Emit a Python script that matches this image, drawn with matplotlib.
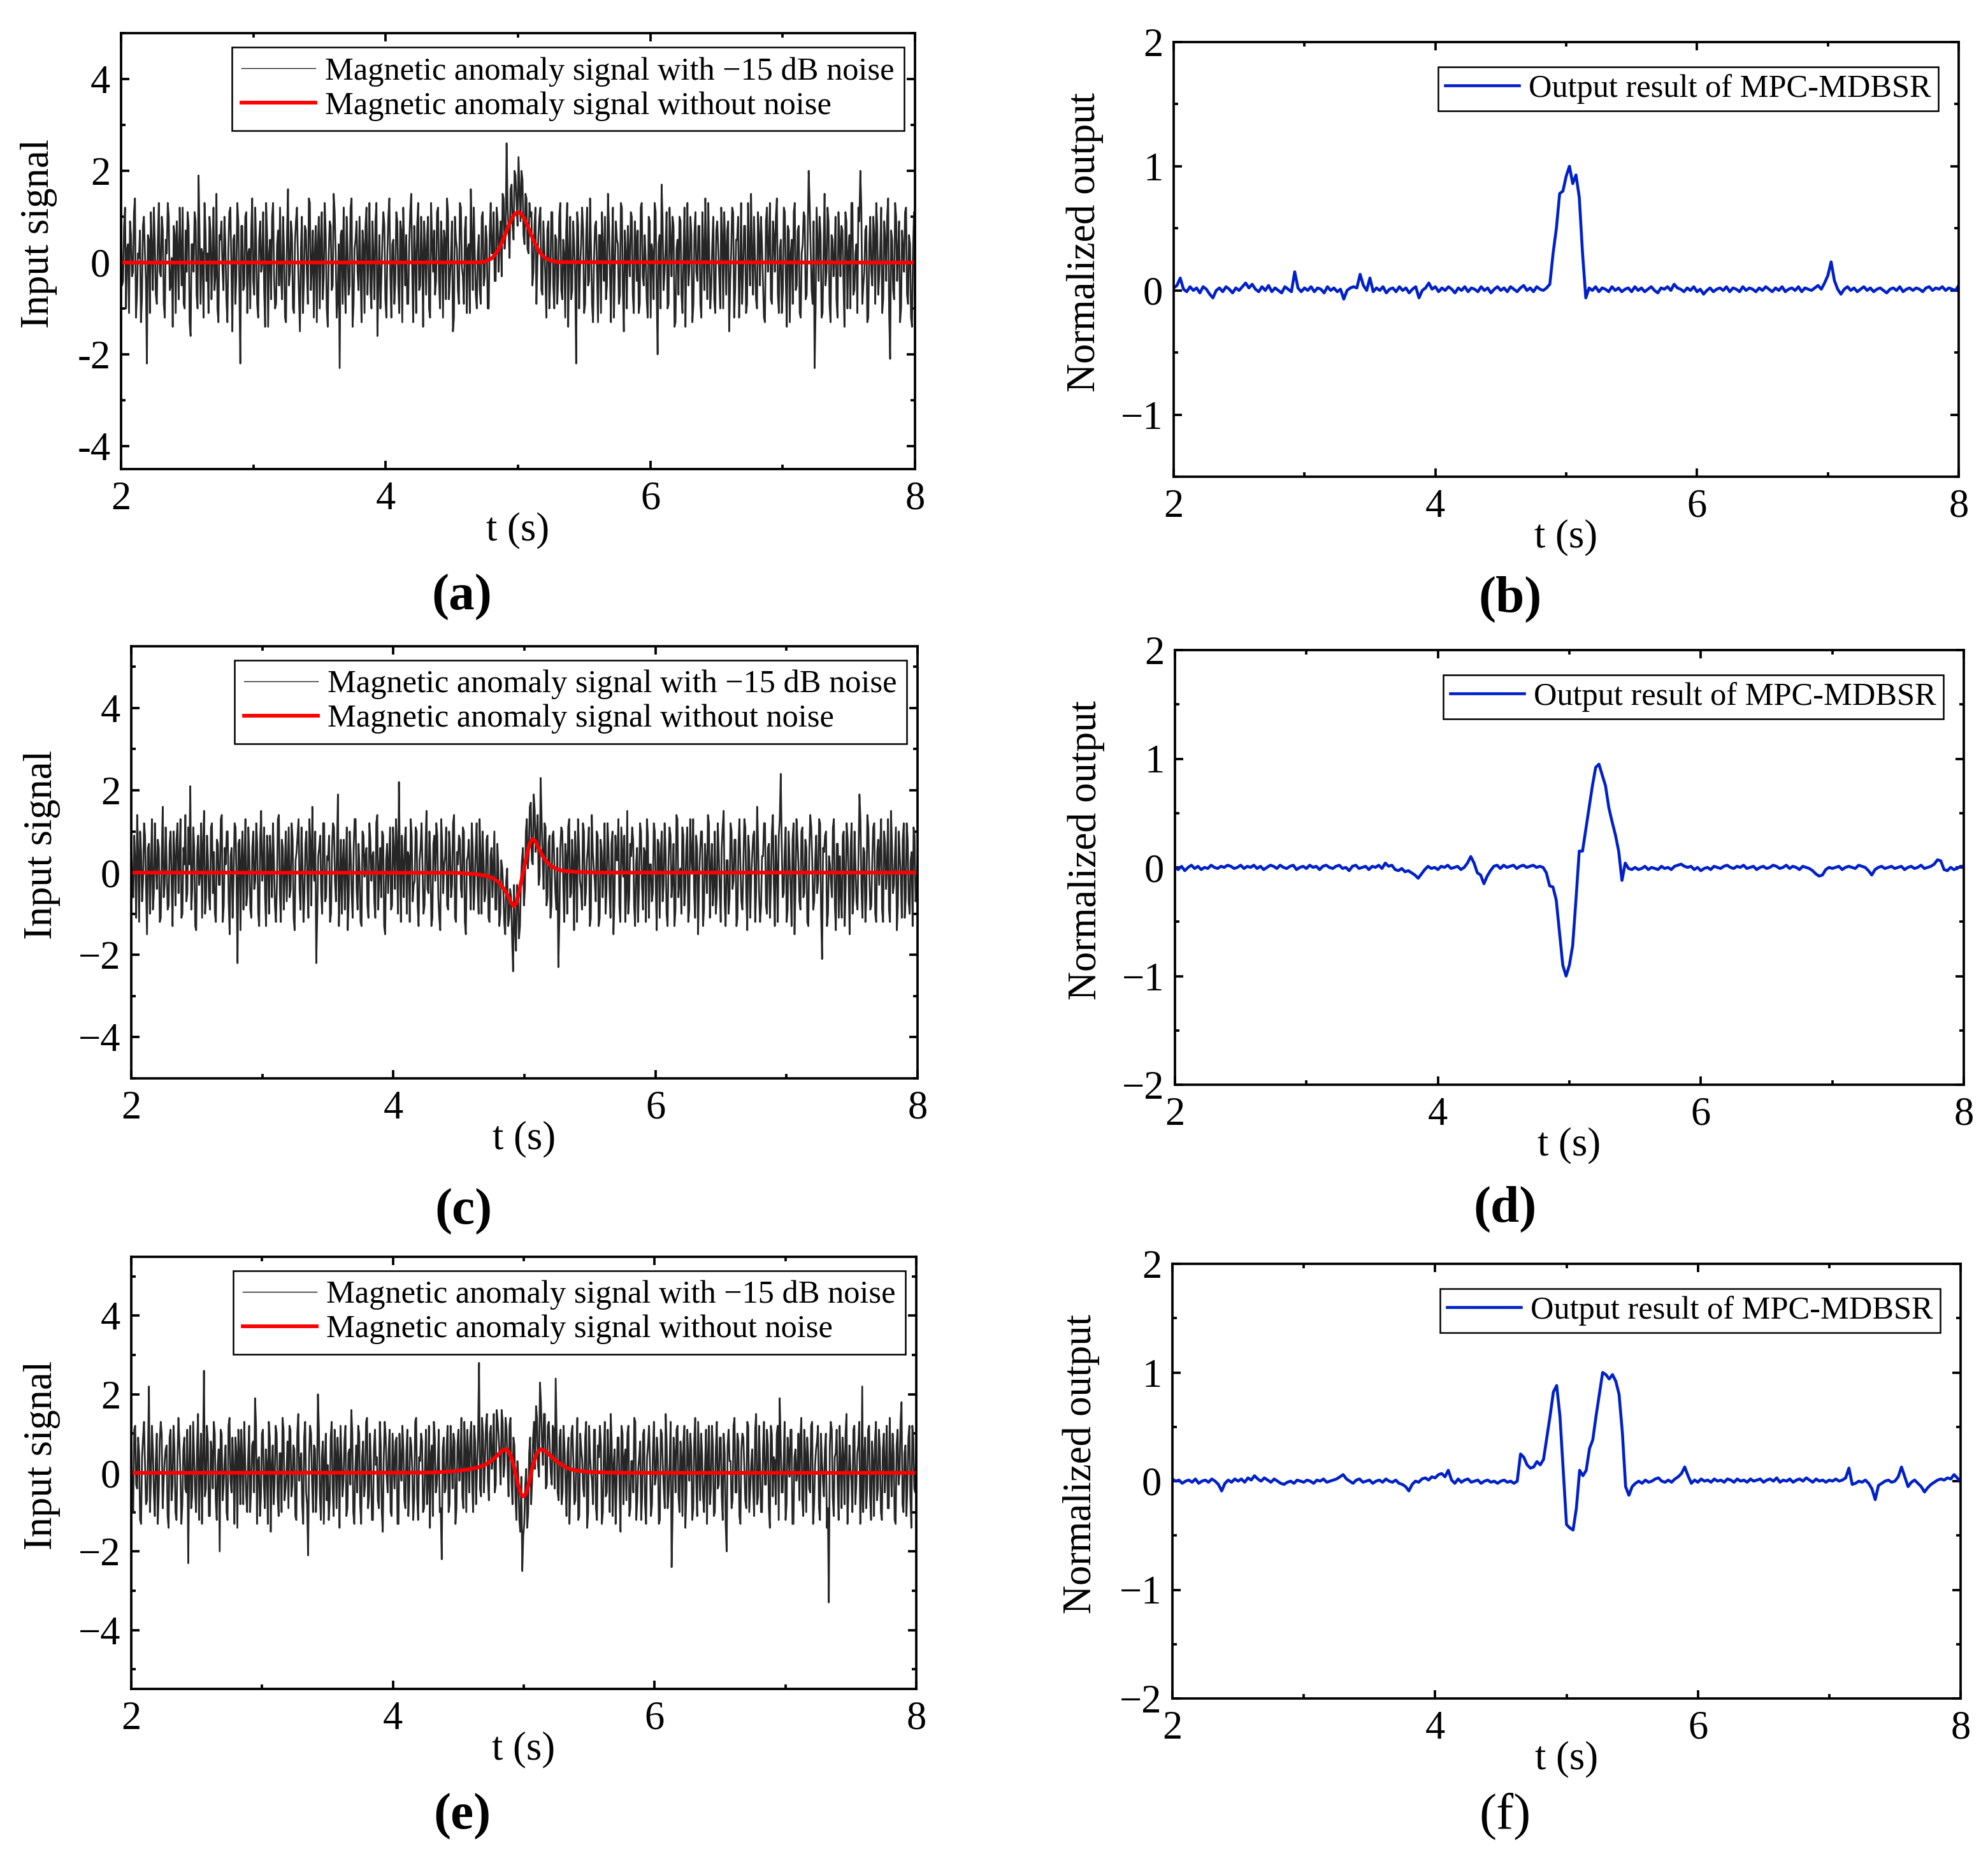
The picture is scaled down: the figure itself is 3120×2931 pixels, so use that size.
import numpy as np
import matplotlib
matplotlib.use('Agg')
import matplotlib.pyplot as plt
from matplotlib.ticker import MultipleLocator

plt.rcParams['font.family'] = ['Liberation Serif', 'DejaVu Serif']

# ---- data ----
xticks = [2, 4, 6, 8]
xtick_labels = ['2', '4', '6', '8']

# noisy input signals (a), (c), (e): even and odd samples, evenly spaced over 2..8 s
noisy_a = [
    0.9, -0.4, 1.2, 0.3, -1.1, 0.6, -0.2, 1.4, -0.7, 0.1, -1.3, 0.8, 0.2, -2.2, 0.5, 1.1, -0.6, 0.4, -0.9, 1.3,
    -0.3, 0.7, -1.2, 0.2, 1.0, -0.5, -1.4, 0.6, 0.9, -0.8, 0.3, 1.2, -1.0, -0.2, 0.8, -1.6, 0.4, 1.1, -0.7, 1.9,
    -0.9, 0.2, 1.3, -0.4, -1.1, 0.7, 0.1, -0.6, 1.5, -1.3, 0.5, -0.1, 1.0, -0.8, 0.3, 1.2, -1.5, 0.6, -0.3, 0.9,
    -2.2, 0.8, -0.5, 1.1, 0.2, -1.0, 1.4, -0.7, 0.4, -1.2, 0.9, 0.0, -0.6, 1.3, -1.4, 0.5, 1.0, -0.3, -0.9, 0.7,
    1.2, -0.8, 0.3, -1.3, 1.6, -0.2, 0.6, -1.1, 0.9, 0.1, -1.5, 1.0, -0.4, 0.7, -0.9, 1.3, -0.1, -1.2, 0.8, 0.4,
    -1.0, 1.1, -0.3, 0.6, -1.4, 0.9, -0.6, 1.5, 0.2, -0.8, -2.3, 0.7, 1.2, -1.1, 0.3, -0.5, 1.4, -0.9, 0.5, -0.2,
    1.0, -1.3, 0.4, 0.8, -0.7, 1.3, -1.0, 0.1, 0.9, -1.6, 0.6, -0.3, 1.1, -0.8, 0.2, 1.4, -1.2, 0.5, -0.4, 0.9,
    -1.1, 0.7, 1.2, -0.5, -0.9, 0.4, 1.5, -1.3, 0.2, 0.8, -0.6, 1.0, -1.4, 0.3, 0.6, -1.0, 1.3, -0.2, -0.7, 1.1,
    -0.4, 0.9, -1.2, 0.5, 1.4, -0.8, 0.1, -1.5, 1.0, 0.3, -0.9, 1.2, -0.3, 0.7, -1.1, 0.4, 1.6, -0.6, 0.2, -1.0,
    0.6, -0.9, 1.1, -0.3, 0.5, -1.0, 1.3, 0.2, -0.4, 1.2, -0.2, 0.9, 1.5, 0.3, 2.6, 0.7, 1.6, 0.8, 2.0, 1.3,
    2.3, 0.9, 1.8, 0.4, 1.4, 0.2, 1.0, -0.5, 0.8, -0.9, 0.6, 1.2, -0.7, 0.3, -1.2, 0.9, -0.4, 1.1, -1.0, 0.5,
    -0.3, 1.3, -0.8, 0.2, 0.7, -1.4, 1.0, -0.6, 0.4, -2.2, 0.8, -0.1, 1.2, -1.1, 0.5, -0.5, 1.4, -0.9, 0.1, 0.9,
    -1.3, 0.6, 1.1, -0.4, -0.8, 1.5, -0.2, 0.3, -1.2, 0.9, 0.4, -0.7, 1.2, -1.5, 0.2, 0.8, -0.3, 1.0, -1.1, 0.5,
    0.7, -0.9, 1.3, -0.5, 0.1, -1.2, 0.9, 0.4, -0.8, 1.1, -2.0, 0.6, 1.7, -0.6, 0.3, -1.0, 1.2, -0.3, 0.8, -1.3,
    0.5, 1.0, -0.7, 0.2, -1.4, 1.3, -0.1, 0.6, -0.9, 1.1, -0.4, 0.8, -1.2, 0.3, 1.4, -0.8, 0.1, -0.5, 1.0, -1.1,
    0.9, -0.3, 1.2, -1.0, 0.4, 0.7, -1.5, 0.2, 1.1, -0.6, 0.5, -1.2, 1.3, -0.2, 0.8, -0.9, 0.3, 1.5, -0.7, 0.1,
    -1.0, 0.6, 1.0, -0.4, -1.3, 1.2, 0.3, -0.8, 0.9, -0.2, 1.4, -1.1, 0.5, -0.6, 1.1, -1.4, 0.7, 0.2, -0.9, 1.3,
    -0.5, 0.8, -1.2, 0.4, 1.0, -0.7, 2.0, 0.3, -0.9, -2.3, 1.2, -0.4, 0.6, -1.1, 1.5, -0.2, 0.9, -1.3, 0.5, 0.1,
    -0.8, 1.1, -0.3, 0.7, -1.4, 0.9, 0.2, -1.0, 1.3, -0.6, 0.4, 1.2, 2.0, -0.9, -0.2, 0.8, -1.2, 1.0, -0.5, 0.6,
    1.3, -0.7, 0.3, -1.1, 0.9, -0.4, 1.4, -2.1, 0.5, -0.8, 1.0, 0.2, -1.3, 0.7, -0.2, 1.2, -0.9, 0.4, -1.4, 1.1,
]
noisy_a_odd = [
    -0.5, 0.8, -1.0, 0.4, 0.9, -0.3, 1.1, -1.2, 0.2, 0.7, -0.8, 1.0, -0.4, 0.6, -1.1, 0.3, 1.2, -0.7, 0.5, -0.2,
    1.0, -0.9, 0.5, 1.3, -0.6, 0.1, 0.8, -1.1, 0.3, 1.2, -0.5, -0.9, 0.7, 1.1, -1.3, 0.4, -0.2, 0.9, -1.0, 0.6,
    0.3, -1.2, 0.7, 0.2, 1.0, -0.8, 1.2, -0.3, -1.0, 0.6, 0.9, -0.6, 0.4, -1.3, 1.1, -0.1, 0.5, -0.9, 1.3, -0.4,
    0.8, -0.6, 1.0, -1.1, 0.3, 0.7, -0.4, 1.2, -0.9, 0.5, -0.2, 1.1, -1.4, 0.6, 0.2, -0.8, 1.3, -1.0, 0.4, -0.5,
    -0.3, 1.0, -1.2, 0.6, -0.5, 0.9, -1.0, 0.4, 1.2, -0.7, 0.3, -1.1, 0.8, -0.2, 1.4, -0.6, 0.7, 0.2, -1.3, 1.0,
    0.5, -0.8, 1.3, -1.0, 0.2, 0.8, -0.5, 1.1, -1.2, 0.4, 0.6, -0.9, -0.3, 1.0, -0.7, 1.2, -1.4, 0.3, 0.9, -0.6,
    -0.2, 0.7, -1.1, 1.2, 0.1, -0.6, 0.9, -0.8, 1.3, -0.4, -1.0, 0.5, 0.8, -1.2, 1.0, -0.3, 0.4, -0.9, 1.1, -0.5,
    0.9, -1.3, 0.3, 0.6, -0.9, 1.1, -0.2, 0.8, -1.1, 1.3, -0.5, 0.2, 0.9, -0.7, 1.0, -1.2, 0.5, 0.7, -0.4, 1.2,
    -1.0, 0.4, 0.7, -0.8, 1.1, -0.3, 0.9, -1.2, 0.5, -0.6, 1.3, -0.1, -0.9, 1.0, 0.3, -1.1, 0.6, 1.2, -0.7, 0.2,
    -0.6, 1.0, -0.5, 0.8, -1.0, 0.6, 0.2, 1.1, -0.4, 0.9, 0.5, -0.3, 1.4, 0.6, 1.2, 0.1, 1.7, 0.5, 1.9, 0.8,
    1.6, 2.0, 0.6, 1.5, 0.3, 1.3, 1.1, -0.2, 1.2, 0.0, 1.0, -0.6, 0.9, -0.3, 0.7, -1.0, 1.1, -0.5, 0.6, -0.9,
    1.0, -0.6, 0.5, -1.2, 1.3, 0.2, -0.8, 0.9, -0.3, 1.1, -1.0, 0.4, 0.7, -0.9, 1.2, -0.4, 0.3, -1.3, 0.8, -0.2,
    0.6, -1.1, 0.3, 1.0, -0.5, 0.8, -1.3, 1.2, -0.1, 0.5, -0.9, 1.3, -0.6, 0.7, -1.0, 0.2, 1.1, -0.7, 0.9, -0.4,
    -1.1, 1.2, -0.3, 0.6, -0.8, 1.0, -1.2, 0.2, 1.3, -0.6, 0.4, -1.0, 0.9, -0.2, 1.1, -0.9, 0.5, 1.0, -1.4, 0.3,
    -0.7, 0.9, -1.1, 1.2, 0.3, -0.5, 1.0, -1.3, 0.6, -0.2, 0.8, -0.9, 1.1, -0.6, 0.2, 1.3, -1.0, 0.4, -0.8, 0.7,
    0.3, -1.0, 0.6, 1.1, -0.7, 0.9, -0.4, 1.2, -1.2, 0.5, 1.0, -0.3, -0.9, 0.8, -1.1, 1.3, -0.5, 0.2, 1.0, -0.8,
    1.1, -0.5, 0.4, -1.2, 0.9, -0.2, 1.3, -0.9, 0.6, 1.0, -0.7, 0.3, -1.1, 1.2, -0.4, 0.8, -1.3, 0.5, 1.1, -0.6,
    0.7, -1.1, 0.2, 1.1, -0.8, 0.5, 1.3, -0.6, 0.9, -1.0, 0.4, 1.0, -1.2, 0.3, -0.5, 1.2, -0.9, 0.6, -0.3, 1.0,
    -1.2, 0.5, 0.8, -0.4, 1.1, -1.0, 0.6, 1.3, -0.7, 0.2, -1.1, 0.9, 1.2, -0.5, 0.7, -1.3, 0.4, -0.2, 1.0, -0.9,
    0.8, -0.3, 1.2, -0.8, 0.5, 1.0, -1.1, 0.7, -0.6, 1.3, -0.4, 0.9, -1.0, 0.3, 1.1, -0.7, 0.6, -1.2, 0.2, 0.9,
]
noisy_c = [
    1.1, -0.6, 0.3, 1.4, -1.2, 0.5, -0.2, 0.9, -1.5, 0.7, 0.1, -0.9, 1.2, -0.4, 0.6, -1.1, 1.6, -0.3, 0.2, -0.8,
    1.0, -1.3, 0.4, 0.8, -0.5, 1.3, -1.0, 0.2, -0.7, 1.1, 2.1, -0.4, 0.6, -1.4, 0.9, 0.0, -1.1, 1.5, -0.6, 0.3,
    -0.9, 1.2, 0.5, -1.2, 0.7, -0.3, 1.4, -0.8, 0.2, 1.0, -1.5, 0.6, -0.1, 1.1, -2.2, 0.8, 0.3, -0.9, 1.3, -0.5,
    0.4, -1.1, 1.0, -0.2, 0.7, -1.3, 1.5, 0.1, -0.6, 0.9, -1.0, 0.3, 1.2, -0.8, -0.3, 1.4, -1.2, 0.6, 0.0, -0.7,
    1.1, -0.4, 0.8, -1.4, 0.5, 1.3, -0.9, 0.2, -0.5, 1.0, -1.1, 0.7, 1.6, -0.2, -2.2, 0.4, 0.9, -1.0, 1.2, -0.6,
    0.3, -1.2, 0.6, 1.1, -0.7, 1.9, -0.3, -1.0, 0.8, 0.2, -1.4, 1.0, -0.5, 0.6, 1.3, -0.9, 0.1, -1.3, 0.9, 0.4,
    -0.8, 1.2, -0.2, 0.5, -1.1, 1.4, 0.0, -0.6, 0.9, -1.5, 0.7, 0.3, -0.9, 1.1, -0.4, 0.6, 2.2, -1.2, 0.2, 0.8,
    -1.0, 0.4, 1.3, -0.7, -0.2, 1.0, -1.3, 0.6, 0.1, -0.8, 1.5, -0.5, 0.3, -1.1, 0.9, 1.2, -0.6, -1.4, 0.7, 0.2,
    1.1, -0.9, 0.5, -0.3, 1.4, -1.2, 0.2, 0.8, -0.6, 1.0, -1.5, 0.4, -0.1, 1.2, -0.9, 0.6, -0.4, 1.3, -1.0, 0.3,
    -0.5, 0.9, -1.2, 0.6, 0.2, -0.9, 0.7, -1.3, 0.3, -0.4, -1.5, 0.1, -1.1, -0.6, -2.4, -1.4, -0.3, -1.6, -0.2, 0.6,
    -0.4, 1.3, 0.5, 1.7, 0.2, 1.5, 0.9, -0.3, 2.3, 0.4, 1.2, -0.8, 0.7, -1.1, 0.9, 0.2, -0.9, -2.3, 0.6, 1.0,
    -1.2, 0.4, 1.1, -0.6, 0.8, -1.4, 0.3, 1.3, -0.2, -0.9, 1.0, -0.5, 0.6, -1.3, 1.4, 0.1, -0.7, 0.9, -1.1, 0.5,
    0.2, -1.0, 1.2, -0.4, 0.7, -1.5, 0.9, 0.3, -0.8, 1.1, -0.1, -1.2, 1.5, -0.6, 0.4, 0.8, -1.3, 0.6, -0.3, 1.0,
    -0.9, 0.5, 1.3, -1.1, 0.2, -0.5, 1.0, -1.4, 0.7, 0.4, -0.7, 1.2, -1.0, 0.3, 0.9, -0.2, -1.3, 1.4, -0.6, 0.1,
    1.1, -0.8, 0.6, -1.2, 1.3, 0.0, -0.5, 0.9, -1.5, 0.5, 1.0, -0.9, 0.2, 1.4, -1.1, 0.7, -0.3, -1.0, 1.2, -0.4,
    0.6, 1.5, -1.3, 0.3, -0.6, 1.0, -0.2, 0.8, -1.1, 1.3, -0.7, 0.2, 1.1, -1.4, 0.5, -0.1, 0.9, -1.2, 1.6, -0.5,
    -0.8, 0.4, 1.2, -1.0, 0.7, -0.3, 1.4, -1.3, 0.1, 0.9, 2.4, -0.6, 0.5, -1.2, 1.0, -0.4, 0.8, -1.5, 1.3, 0.2,
    -0.9, 1.1, -0.5, 0.6, -1.3, 1.4, 0.3, -0.7, 0.9, -0.2, 1.2, -2.1, 0.5, 1.0, -1.0, 0.2, -0.6, 1.3, -1.4, 0.7,
    0.4, -1.1, 1.0, -0.3, 0.8, -1.5, 1.2, -0.6, 0.1, -0.9, 1.9, -0.4, 0.6, -1.2, 1.4, 0.0, -0.8, 1.1, -1.0, 0.5,
    -0.3, 1.3, -1.2, 0.7, 0.2, -0.9, 1.5, -0.5, 0.4, -1.4, 1.0, -0.1, 0.8, -1.1, 1.2, -0.7, 0.3, -1.3, 0.9, -0.4,
]
noisy_c_odd = [
    -0.4, 0.9, -1.1, 0.5, 1.0, -0.7, 1.2, -0.3, 0.6, -1.0, 1.3, -0.5, 0.2, 0.8, -1.2, 0.4, -0.6, 1.1, -0.9, 0.7,
    -0.2, 1.0, -0.8, 1.2, 0.3, -1.1, 0.6, 1.4, -0.5, 0.2, -0.9, 1.1, -1.3, 0.5, -0.3, 1.2, 0.7, -1.0, 0.9, -0.6,
    1.1, -0.5, -1.0, 0.8, -0.3, 1.3, -1.2, 0.6, 1.0, -0.7, 0.4, -1.1, 1.2, -0.2, 0.7, -1.4, 1.0, 0.3, -0.8, 1.1,
    -0.9, 0.6, -0.4, 1.2, -1.0, 0.8, -0.2, 1.1, -1.3, 0.4, 0.9, -0.6, 0.3, -1.2, 1.3, -0.5, 0.8, -0.9, 1.0, 0.2,
    -0.6, 1.2, -1.1, 0.3, 0.9, -0.4, 1.1, -1.2, 0.7, -0.3, 1.3, -0.8, 0.2, 1.0, -1.0, 0.6, -0.5, 1.2, -0.7, 0.4,
    0.9, -1.0, 1.2, -0.2, 0.5, -1.3, 0.8, 0.3, -0.9, 1.1, -0.6, 0.4, -1.1, 1.3, -0.4, 0.7, -1.2, 1.0, -0.1, 0.6,
    -1.1, 0.8, 0.4, -0.7, 1.2, -0.9, 0.6, 1.0, -1.3, 0.3, -0.5, 1.1, -0.8, 0.5, 1.3, -1.0, 0.2, 0.9, -0.6, 1.1,
    0.5, -1.2, 0.9, -0.3, 1.1, -0.8, 0.3, 1.2, -1.0, 0.6, -0.4, 1.0, -1.3, 0.7, -0.2, 0.9, -1.1, 1.3, -0.5, 0.4,
    -0.8, 1.0, -0.6, 1.2, -1.1, 0.5, 0.9, -0.4, 1.1, -1.2, 0.3, 0.8, -0.9, 0.6, -0.3, 1.2, -1.0, 0.4, 1.0, -0.7,
    0.8, -1.1, 0.4, -0.6, 1.0, -0.9, 0.2, -1.0, 0.1, -1.2, -0.2, -1.3, -0.4, -1.6, -0.3, -1.9, -0.5, -1.3, 0.3, -0.8,
    1.0, 0.1, 1.6, 0.3, 1.9, 0.5, 1.4, -0.1, 1.3, -0.4, 1.1, -0.6, 0.9, -0.8, 1.0, -0.5, 0.6, -1.2, 1.1, -0.3,
    0.7, -1.0, 1.3, -0.5, 0.2, 1.0, -1.2, 0.6, -0.4, 1.2, -0.8, 0.3, 1.1, -1.1, 0.5, -0.2, 1.0, -1.3, 0.8, -0.6,
    1.2, -0.4, 0.6, -1.1, 1.0, -0.7, 0.3, 1.3, -1.2, 0.5, 0.9, -0.5, -1.0, 0.7, 1.1, -0.8, 0.2, -1.2, 1.2, -0.3,
    0.6, -1.2, 0.9, 0.2, -0.7, 1.2, -0.4, 0.8, -1.1, 1.0, -0.3, 0.5, -1.3, 1.1, -0.6, 0.7, -0.9, 1.3, -0.2, -1.0,
    0.9, -0.4, 1.1, -0.9, 0.4, 1.3, -1.1, 0.6, -0.2, 1.0, -1.3, 0.7, -0.5, 1.2, 0.1, -0.8, 1.0, -0.6, 0.5, -1.2,
    1.1, -0.7, 0.3, -1.0, 1.2, -0.4, 0.8, -1.3, 0.6, 0.2, -0.9, 1.3, -0.6, 0.9, -1.1, 0.4, 1.0, -0.5, 0.7, -1.2,
    0.4, 1.2, -0.8, 0.6, -1.1, 1.0, -0.3, 0.9, -1.2, 1.3, 0.7, -0.5, 1.1, -0.9, 0.3, -1.3, 1.2, -0.4, 0.8, -0.7,
    1.0, -0.6, 0.8, -1.2, 0.5, 1.1, -0.9, 0.3, -0.5, 1.3, -1.0, 0.6, 0.9, -1.3, 0.4, -0.2, 1.1, -0.8, 0.7, -1.1,
    -0.5, 0.9, -1.3, 1.2, -0.2, 0.6, -1.0, 1.0, -0.7, 0.4, 1.3, -1.1, 0.5, -0.6, 1.1, -0.9, 0.3, 1.2, -1.2, 0.8,
    0.6, -0.9, 1.0, -0.4, 1.3, -1.2, 0.7, -0.3, 1.1, -0.8, 0.4, -1.1, 1.2, -0.6, 0.8, -1.0, 0.5, 1.1, -0.7, 0.2,
]
noisy_e = [
    0.8, -1.0, 1.2, -0.4, 0.5, -1.3, 0.9, 0.2, -0.7, 2.2, -0.2, 0.6, -1.1, 1.0, -0.5, 1.3, -0.9, 0.3, 0.7, -1.4,
    1.1, -0.3, 0.6, -1.2, 1.4, 0.0, -0.8, 0.9, -0.5, -2.3, 1.2, -0.6, 0.4, -1.0, 1.5, 0.2, -1.3, 2.6, -0.4, 0.8,
    -1.1, 0.5, 1.3, -0.7, 0.2, -2.0, 1.0, -0.3, 0.7, -1.2, 1.4, -0.5, 0.1, 0.9, -1.4, 0.6, 1.1, -0.8, 0.3, -1.0,
    1.2, -0.4, 0.8, 1.9, -1.3, 0.4, -0.6, 1.1, -0.9, 0.2, 1.3, -1.5, 0.7, -0.2, 1.0, -1.1, 0.5, 1.4, -0.7, 0.0,
    -0.9, 1.1, -0.3, 0.6, -1.2, 1.5, 0.3, -0.8, 0.9, -0.5, -2.1, 1.2, -0.2, 0.7, -1.0, 2.0, -0.6, 0.4, -1.3, 1.0,
    0.2, -0.7, 1.3, -1.1, 0.5, 0.9, -1.4, 0.3, -0.2, 1.2, -0.9, 0.6, 1.6, -1.0, 0.1, -0.5, 1.0, -1.3, 0.8, -0.3,
    1.4, -0.6, 0.2, -1.2, 1.1, 0.4, -0.9, 0.7, -1.5, 1.3, -0.1, 0.6, -1.0, 1.0, -0.4, 0.9, -1.3, 0.3, 1.2, -0.7,
    0.5, -1.1, 0.9, 0.1, -0.6, 1.4, -1.2, 0.3, 0.8, -0.9, 1.1, -0.3, -1.4, 0.7, 1.3, -0.5, 0.2, -1.0, -2.2, 0.9,
    -0.4, 1.2, -0.8, 0.5, 1.0, -1.3, 0.7, -0.2, 1.4, -0.9, 0.6, 1.1, -0.5, 1.3, -1.0, 0.8, 0.2, 2.8, -0.6, 1.0,
    0.3, 1.5, -0.7, 1.2, 0.4, -0.5, 1.6, 0.9, -0.3, 1.3, 0.2, 1.1, -0.6, 1.4, -0.8, 0.7, -1.2, -0.1, -1.5, -2.5,
    -1.3, 0.1, -1.0, 0.9, -0.2, 1.3, 1.7, 0.2, 2.3, 0.8, 1.5, -0.4, 1.2, 0.6, -0.3, 1.1, 2.4, -0.5, 0.9, -0.8,
    1.2, -0.2, 0.5, -1.3, 1.0, 0.3, -0.7, 1.4, -1.1, 0.6, -0.4, 0.9, -1.4, 1.2, 0.0, -0.8, 1.1, -1.2, 0.4, 0.7,
    -1.0, 1.3, -0.5, 0.2, 1.5, -1.1, 0.6, -0.3, 0.9, -1.5, 1.0, 0.4, -0.7, 1.2, -0.9, 0.3, 1.4, -1.2, 0.1, 0.8,
    -0.6, 1.1, -1.3, 0.7, 0.2, -0.8, 1.3, -0.1, 0.5, -1.2, 1.0, -0.4, 1.5, -0.9, 0.3, -2.4, 0.9, -0.5, 1.2, -1.0,
    0.4, 0.8, -1.4, 1.1, -0.2, 0.6, -0.9, 1.4, -1.1, 0.3, 1.0, -0.6, 0.2, -1.3, 1.2, -0.4, 0.7, -1.0, 1.3, -0.3,
    0.9, -1.2, 0.5, -2.0, 1.1, 0.3, -0.7, 1.4, -0.5, 0.8, -1.3, 1.0, 0.1, -0.9, 1.2, -0.4, 0.6, -1.1, 1.5, -0.6,
    0.2, -1.0, 1.3, -0.3, 0.7, -1.4, 1.0, 0.4, -0.8, 1.2, 1.9, -0.5, 0.3, -1.2, 0.9, -0.1, 1.1, -1.3, 0.6, 0.0,
    -0.7, 1.4, -1.1, 0.5, 0.9, -0.4, 1.2, -1.3, 0.2, 0.8, -0.9, 1.0, -0.2, 0.6, -1.4, -3.3, 1.3, -0.6, 0.4, 1.1,
    -1.2, 0.3, 0.9, -0.8, 1.5, -0.5, 0.1, -1.0, 1.2, -0.3, 0.7, -1.3, 2.2, 0.4, -0.9, 1.1, -0.6, 0.8, -1.1, 1.3,
    -0.4, 0.6, -1.2, 1.0, 0.2, -0.9, 1.4, -0.6, 0.5, -1.3, 1.1, 0.0, 1.8, -1.0, 0.7, -0.3, 1.2, -1.4, 0.9, -0.5,
]
noisy_e_odd = [
    -0.6, 1.1, -0.3, 0.9, -1.2, 0.4, 1.3, -0.8, 0.5, -1.0, 1.2, -0.5, 0.3, -1.3, 0.8, 1.0, -0.2, 0.6, -1.1, 0.9,
    -0.7, 1.2, -1.0, 0.3, 0.8, -1.3, 0.6, -0.4, 1.1, 0.2, -0.9, 1.3, -0.5, 0.7, -1.2, 1.0, 0.4, -0.6, 1.2, -1.1,
    0.8, -0.4, 1.0, -1.2, 0.6, 1.1, -0.7, 0.3, -1.0, 1.2, -0.2, 0.9, -1.3, 0.5, 1.1, -0.8, 0.2, 1.3, -0.6, 0.4,
    -1.0, 0.7, -0.5, 1.2, 0.3, -1.1, 1.0, -0.3, 0.6, -1.3, 0.9, 0.2, -0.8, 1.2, -0.6, 0.5, -1.0, 1.1, -0.4, 0.8,
    1.2, -0.6, 0.7, -1.1, 1.0, -0.2, 0.5, -1.3, 1.3, -0.8, 0.4, 1.0, -1.0, 0.6, -0.3, 1.1, -1.2, 0.8, 0.3, -0.7,
    -1.2, 0.9, -0.4, 1.1, -0.9, 0.3, 1.2, -0.6, 0.8, -1.1, 0.5, -0.3, 1.0, -1.3, 0.7, 1.2, -0.8, 0.4, -0.6, 1.3,
    -0.9, 1.0, -1.2, 0.6, 0.2, -0.7, 1.3, -1.0, 0.4, 0.9, -0.5, 1.1, -1.1, 0.3, 0.8, -1.3, 1.0, -0.2, 0.6, -0.9,
    1.1, -0.4, 0.7, -1.2, 1.3, -0.6, 0.4, 1.0, -1.0, 0.2, -0.8, 1.2, 0.5, -1.1, 0.9, -0.3, 1.1, -0.9, 0.6, -0.5,
    0.7, -1.0, 1.2, -0.4, 0.8, -0.9, 1.1, 0.3, -0.6, 1.3, -1.0, 0.5, 0.9, -0.3, 1.2, -0.8, 1.0, -0.4, 1.4, -0.5,
    1.2, -0.2, 1.0, 0.1, 1.5, -0.3, 1.3, 0.4, 1.6, -0.1, 1.4, 0.2, 1.2, -0.2, 0.9, -0.6, 0.3, -1.2, -0.1, -1.6,
    -0.3, -1.4, 0.5, -0.8, 0.9, 0.1, 1.4, -0.1, 1.8, 0.2, 1.5, -0.3, 1.3, 0.0, 1.2, -0.4, 0.9, -0.7, 1.1, -0.5,
    0.6, -1.1, 0.9, -0.3, 1.2, -0.8, 0.5, -1.2, 1.0, 0.3, -0.6, 1.3, -1.0, 0.4, -0.2, 1.1, -0.9, 0.7, 1.2, -1.3,
    0.5, -0.6, 1.1, -1.0, 0.8, 0.2, -1.3, 0.9, -0.4, 1.2, -0.8, 0.6, 1.0, -1.1, 0.3, -0.5, 1.3, -0.7, 0.4, -1.2,
    1.0, -0.8, 0.4, 1.2, -1.1, 0.6, -0.3, 0.9, -1.3, 1.1, 0.2, -0.9, 0.7, -0.5, 1.3, -1.0, 0.5, 1.1, -0.6, 0.8,
    -1.1, 1.2, -0.5, 0.3, 1.0, -1.2, 0.8, -0.2, 1.3, -0.7, 0.5, -1.0, 1.1, 0.4, -0.8, 1.2, -1.1, 0.6, -0.4, 0.9,
    -0.6, 1.0, -1.3, 0.7, 0.3, -0.9, 1.2, -0.5, 1.0, -1.1, 0.6, 0.9, -0.7, 1.3, -1.0, 0.2, -0.4, 1.1, -0.8, 1.2,
    -1.0, 0.6, -0.3, 1.1, -0.9, 1.2, -0.6, 0.3, 1.0, -1.2, 0.8, -0.5, 1.3, -0.8, 0.5, 1.1, -1.3, 0.4, -0.2, 1.0,
    0.9, -0.7, 1.1, -1.0, 0.4, -0.5, 1.3, -0.8, 0.6, 1.2, -1.2, 0.3, -0.6, 1.0, -0.9, 0.7, 1.1, -1.1, 0.5, -0.3,
    1.2, -0.9, 0.4, 1.0, -1.3, 0.7, -0.2, 1.1, -0.8, 0.5, 1.3, -0.6, -1.0, 0.9, -0.4, 1.2, -1.2, 0.3, 0.8, -0.7,
    1.1, -1.0, 0.6, -0.5, 1.2, -0.9, 0.3, 1.0, -1.2, 0.7, -0.3, 1.3, -0.8, 0.5, -1.1, 0.9, -0.6, 1.2, -0.4, 0.8,
]

# noise-free anomaly signals
clean_t_a = [2.0, 4.70, 4.75, 4.80, 4.825, 4.85, 4.875, 4.90, 4.925, 4.95, 4.975, 5.00,
             5.025, 5.05, 5.075, 5.10, 5.125, 5.15, 5.175, 5.20, 5.25, 5.30, 8.0]
clean_a = [0.0, 0.004, 0.02, 0.09, 0.17, 0.27, 0.42, 0.59, 0.78, 0.94, 1.06, 1.10,
           1.06, 0.94, 0.78, 0.60, 0.43, 0.29, 0.19, 0.11, 0.04, 0.01, 0.0]
clean_t_c = [2.0, 4.4, 4.5, 4.6, 4.7, 4.75, 4.8, 4.85, 4.88, 4.9, 4.92, 4.94, 4.96, 4.98,
             5.0, 5.02, 5.04, 5.06, 5.08, 5.1, 5.13, 5.16, 5.2, 5.25, 5.3, 5.4, 5.5, 5.6, 8.0]
clean_c = [0.0, -0.005, -0.01, -0.03, -0.07, -0.12, -0.22, -0.42, -0.6, -0.74, -0.82, -0.72,
           -0.45, -0.15, 0.15, 0.45, 0.7, 0.82, 0.78, 0.65, 0.45, 0.3, 0.17, 0.08, 0.04,
           0.015, 0.005, 0.0, 0.0]
clean_t_e = [2.0, 4.2, 4.3, 4.4, 4.5, 4.6, 4.65, 4.7, 4.75, 4.8, 4.84, 4.87, 4.9, 4.93,
             4.96, 4.98, 5.0, 5.02, 5.04, 5.07, 5.1, 5.13, 5.16, 5.2, 5.25, 5.3, 5.35, 5.4,
             5.5, 5.6, 5.8, 8.0]
clean_e = [0.0, 0.005, 0.01, 0.025, 0.05, 0.1, 0.14, 0.2, 0.3, 0.45, 0.58, 0.6, 0.45, 0.1,
           -0.35, -0.55, -0.6, -0.5, -0.25, 0.2, 0.5, 0.6, 0.57, 0.45, 0.3, 0.18, 0.1, 0.06,
           0.02, 0.01, 0.0, 0.0]

# normalized MPC-MDBSR outputs (b), (d), (f): samples every 0.025 s over 2..8 s
out_b = [
    0.02, 0.04, 0.10, 0.01, -0.01, 0.03, 0.00, 0.02, -0.02, 0.03, 0.01, -0.03, -0.06, 0.00, 0.02, -0.01, 0.03, 0.01, -0.02, 0.02,
    0.00, 0.03, 0.06, 0.02, 0.05, 0.01, -0.01, 0.03, 0.00, 0.04, -0.01, 0.02, 0.00, -0.02, 0.03, 0.01, -0.01, 0.15, 0.02, -0.01,
    0.02, 0.00, 0.03, -0.01, 0.02, 0.01, -0.02, 0.03, 0.00, 0.02, -0.01, 0.01, -0.07, 0.00, 0.02, 0.03, 0.02, 0.13, 0.04, 0.00,
    0.10, -0.01, 0.02, 0.00, 0.03, -0.02, 0.01, 0.02, -0.01, 0.03, 0.00, 0.02, -0.02, 0.01, 0.03, -0.06, 0.00, 0.02, 0.06, 0.01,
    0.03, -0.01, 0.02, 0.00, 0.03, 0.01, -0.02, 0.02, 0.00, 0.03, -0.01, 0.02, 0.01, -0.01, 0.03, 0.00, 0.02, -0.02, 0.01, 0.03,
    0.00, 0.02, -0.01, 0.03, 0.01, -0.01, 0.02, 0.04, 0.00, 0.02, -0.01, 0.03, 0.01, 0.00, 0.02, 0.05, 0.30, 0.50, 0.78, 0.80,
    0.92, 1.00, 0.86, 0.93, 0.75, 0.30, -0.06, 0.02, 0.00, 0.03, -0.01, 0.02, 0.01, -0.01, 0.03, 0.00, 0.02, -0.01, 0.01, 0.02,
    -0.01, 0.03, 0.00, 0.02, -0.01, 0.01, 0.03, 0.00, -0.02, 0.02, 0.01, 0.03, 0.00, 0.05, 0.02, 0.01, -0.01, 0.02, 0.00, 0.03,
    -0.01, 0.01, -0.03, 0.00, 0.02, -0.01, 0.01, 0.02, 0.00, 0.03, -0.01, 0.02, 0.01, -0.01, 0.03, 0.00, 0.02, 0.01, -0.01, 0.02,
    0.00, 0.03, 0.01, -0.01, 0.02, 0.00, 0.03, -0.01, 0.01, 0.02, 0.00, 0.03, -0.01, 0.02, 0.01, 0.00, 0.02, 0.04, 0.01, 0.06,
    0.12, 0.23, 0.08, 0.01, -0.03, 0.01, 0.03, 0.00, 0.02, -0.01, 0.01, 0.03, 0.00, 0.02, -0.01, 0.01, 0.02, 0.00, -0.02, 0.01,
    0.02, 0.00, 0.03, -0.01, 0.01, 0.02, 0.00, 0.02, 0.01, -0.01, 0.02, 0.03, 0.00, 0.02, 0.01, 0.03, 0.00, 0.02, 0.01, 0.00,
    0.04,
]
out_d = [
    0.00, -0.02, 0.01, -0.03, 0.00, 0.02, -0.01, 0.01, -0.02, 0.00, -0.01, 0.02, 0.00, -0.01, 0.01, 0.00, 0.02, 0.01, -0.01, 0.00,
    0.02, -0.01, 0.01, 0.00, 0.02, -0.01, 0.01, -0.02, 0.00, 0.02, 0.01, -0.01, 0.02, 0.00, -0.01, 0.01, 0.02, -0.02, 0.00, 0.01,
    -0.01, 0.02, 0.00, 0.01, -0.02, 0.01, 0.02, 0.00, -0.01, 0.01, 0.02, -0.01, 0.00, -0.03, 0.01, 0.02, -0.01, 0.00, 0.01, -0.02,
    0.01, 0.00, 0.02, -0.01, 0.04, 0.01, 0.02, -0.02, -0.03, -0.01, -0.04, -0.03, -0.05, -0.07, -0.10, -0.06, -0.02, 0.01, -0.01, 0.00,
    -0.02, 0.01, 0.00, 0.02, -0.01, 0.00, 0.01, -0.02, 0.00, 0.04, 0.10, 0.04, -0.05, -0.07, -0.15, -0.08, -0.03, 0.01, 0.02, -0.01,
    0.02, 0.00, 0.01, 0.02, -0.01, 0.01, 0.02, 0.00, 0.01, 0.02, 0.00, 0.01, 0.00, -0.05, -0.17, -0.18, -0.30, -0.60, -0.90, -1.00,
    -0.90, -0.72, -0.30, 0.15, 0.15, 0.35, 0.55, 0.75, 0.92, 0.95, 0.85, 0.75, 0.55, 0.42, 0.30, 0.15, -0.12, 0.04, -0.01, -0.02,
    0.00, -0.02, -0.01, 0.01, -0.02, 0.00, -0.01, -0.02, 0.01, -0.01, 0.00, -0.02, 0.01, 0.02, 0.03, 0.01, 0.00, 0.01, -0.02, 0.00,
    -0.03, -0.01, 0.00, -0.02, 0.01, 0.00, -0.01, 0.01, 0.02, 0.00, -0.01, 0.01, 0.00, 0.02, -0.01, 0.00, 0.01, -0.02, 0.00, 0.01,
    -0.01, 0.00, 0.02, 0.01, -0.01, 0.00, 0.02, -0.01, 0.01, 0.00, -0.02, 0.01, 0.00, -0.01, -0.03, -0.06, -0.08, -0.07, -0.02, 0.00,
    -0.01, 0.00, 0.01, -0.02, 0.00, 0.01, 0.00, -0.01, 0.02, 0.01, 0.00, -0.03, -0.07, -0.02, 0.00, 0.01, -0.01, 0.00, 0.01, -0.01,
    0.00, 0.01, -0.02, 0.00, 0.01, -0.01, 0.00, 0.02, -0.01, 0.00, 0.01, 0.03, 0.07, 0.06, -0.02, -0.03, 0.00, -0.02, -0.01, 0.01,
    0.01,
]
out_f = [
    0.02, 0.00, 0.01, -0.02, 0.00, 0.01, -0.01, 0.02, -0.02, 0.00, 0.01, -0.01, 0.02, 0.00, -0.03, -0.09, -0.02, 0.01, -0.01, 0.02,
    0.00, 0.02, -0.01, 0.03, 0.01, 0.05, 0.02, 0.00, 0.03, 0.01, -0.01, 0.02, 0.00, -0.02, -0.03, -0.01, 0.00, -0.02, 0.01, 0.00,
    -0.01, 0.01, 0.00, -0.02, 0.01, 0.00, 0.02, -0.01, 0.00, 0.01, 0.02, 0.04, 0.06, 0.02, 0.00, -0.02, 0.01, 0.02, -0.01, 0.00,
    0.01, -0.02, 0.00, 0.01, -0.01, 0.02, 0.00, -0.01, 0.01, -0.02, -0.03, -0.05, -0.09, -0.03, 0.00, -0.01, 0.02, 0.03, 0.01, 0.04,
    0.03, 0.06, 0.07, 0.04, 0.10, 0.01, -0.02, 0.02, -0.01, 0.01, 0.02, -0.01, 0.00, 0.01, -0.02, 0.00, 0.01, -0.01, 0.00, -0.02,
    0.00, 0.01, -0.01, 0.00, -0.02, 0.00, 0.25, 0.22, 0.15, 0.12, 0.13, 0.18, 0.15, 0.20, 0.40, 0.60, 0.82, 0.88, 0.60, 0.10,
    -0.40, -0.43, -0.45, -0.25, 0.10, 0.05, 0.10, 0.30, 0.38, 0.60, 0.80, 1.00, 0.98, 0.94, 0.98, 0.92, 0.80, 0.45, -0.05, -0.13,
    -0.05, -0.02, 0.00, -0.02, 0.01, -0.01, 0.00, 0.02, 0.03, 0.00, -0.01, 0.01, -0.01, 0.02, 0.04, 0.07, 0.13, 0.05, -0.02, 0.01,
    -0.01, 0.02, 0.00, 0.01, -0.01, 0.02, 0.00, 0.01, -0.01, 0.02, 0.01, -0.01, 0.02, 0.00, 0.01, -0.01, 0.02, 0.00, 0.01, 0.02,
    -0.01, 0.01, 0.02, 0.00, 0.03, -0.01, 0.01, 0.00, 0.02, -0.01, 0.01, 0.02, 0.00, 0.03, 0.01, -0.01, 0.02, 0.00, 0.01, -0.01,
    0.01, 0.00, 0.02, 0.00, 0.01, 0.03, 0.12, -0.03, -0.02, 0.00, -0.01, 0.01, -0.02, -0.07, -0.17, -0.04, -0.02, 0.00, 0.01, -0.01,
    0.00, 0.04, 0.13, 0.04, -0.05, -0.01, 0.01, -0.02, -0.05, -0.10, -0.06, -0.03, -0.01, 0.01, 0.02, 0.01, 0.03, 0.02, 0.06, 0.03,
    -0.01,
]

yticks_in = [-4, -2, 0, 2, 4]
ylabels_a = ['-4', '-2', '0', '2', '4']
ylabels_ce = ['\u22124', '\u22122', '0', '2', '4']
yticks_b = [-1, 0, 1, 2]
ylabels_b = ['\u22121', '0', '1', '2']
yticks_df = [-2, -1, 0, 1, 2]
ylabels_df = ['\u22122', '\u22121', '0', '1', '2']

label_noisy = 'Magnetic anomaly signal with \u221215 dB noise'
label_clean = 'Magnetic anomaly signal without noise'
label_out = 'Output result of MPC-MDBSR'

# ---- figure ----
W, H = 3120, 2931
fig = plt.figure(figsize=(W / 300, H / 300), dpi=300)


def make_axes(l, r, t, b):
    return fig.add_axes([l / W, 1 - b / H, (r - l) / W, (b - t) / H])


def style(ax, ylim, yticks, ylabels, yminor, ylabel, ylab_x):
    ax.set_xlim(2, 8)
    ax.set_ylim(*ylim)
    ax.set_xticks(xticks)
    ax.set_xticklabels(xtick_labels)
    ax.set_yticks(yticks)
    ax.set_yticklabels(ylabels)
    ax.xaxis.set_minor_locator(MultipleLocator(1))
    ax.yaxis.set_minor_locator(MultipleLocator(yminor))
    ax.tick_params(which='both', direction='in', top=True, right=True, width=0.9)
    ax.tick_params(which='major', length=3.2, labelsize=15)
    ax.tick_params(which='minor', length=1.6)
    ax.tick_params(axis='x', pad=4.5)
    ax.tick_params(axis='y', pad=4)
    for s in ax.spines.values():
        s.set_linewidth(0.9)
    ax.set_xlabel('t (s)', fontsize=15)
    ax.set_ylabel(ylabel, fontsize=15)
    ax.xaxis.set_label_coords(0.5, -0.098)
    ax.yaxis.set_label_coords(ylab_x, 0.54)


def add_legend(ax, anchor, pad):
    leg = ax.legend(loc='upper right', bbox_to_anchor=anchor, fontsize=12.1, frameon=True,
                    fancybox=False, edgecolor='black', framealpha=1, borderpad=pad,
                    labelspacing=0.15, handlelength=2.3, handletextpad=0.3, borderaxespad=0)
    leg.get_frame().set_linewidth(0.6)
    return leg


def input_panel(ax, noisy, noisy_odd, ct, clean, ylim, ylabels, ylab_x):
    y = np.column_stack([noisy, noisy_odd]).ravel()
    t = np.linspace(2, 8, len(y))
    ax.plot(t, y, color='#262626', lw=0.65, label=label_noisy)
    ax.plot(ct, clean, color='#FF0000', lw=1.4, label=label_clean)
    style(ax, ylim, yticks_in, ylabels, 1, 'Input signal', ylab_x)
    leg = add_legend(ax, (0.986, 0.968), 0.3)
    leg.get_lines()[0].set_linewidth(0.35)


def output_panel(ax, out, ylim, yticks, ylabels, ylab_x):
    t = np.linspace(2, 8, len(out))
    ax.plot(t, out, color='#0020C8', lw=1.1, label=label_out)
    style(ax, ylim, yticks, ylabels, 0.5, 'Normalized output', ylab_x)
    add_legend(ax, (0.974, 0.943), 0.22)


ax_a = make_axes(190, 1436, 52, 736)
input_panel(ax_a, noisy_a, noisy_a_odd, clean_t_a, clean_a, (-4.5, 5), ylabels_a, -0.080)
ax_b = make_axes(1842, 3074, 66, 748)
output_panel(ax_b, out_b, (-1.5, 2), yticks_b, ylabels_b, -0.089)
ax_c = make_axes(206, 1440, 1014, 1692)
input_panel(ax_c, noisy_c, noisy_c_odd, clean_t_c, clean_c, (-5, 5.5), ylabels_ce, -0.090)
ax_d = make_axes(1844, 3082, 1020, 1702)
output_panel(ax_d, out_d, (-2, 2), yticks_df, ylabels_df, -0.089)
ax_e = make_axes(206, 1438, 1972, 2650)
input_panel(ax_e, noisy_e, noisy_e_odd, clean_t_e, clean_e, (-5.5, 5.5), ylabels_ce, -0.090)
ax_f = make_axes(1840, 3077, 1983, 2665)
output_panel(ax_f, out_f, (-2, 2), yticks_df, ylabels_df, -0.092)

# panel letters
for lab, x, y, w in [('(a)', 725, 937, 'bold'), ('(b)', 2370, 940, 'bold'),
                     ('(c)', 727, 1901, 'bold'), ('(d)', 2362, 1897, 'bold'),
                     ('(e)', 726, 2850, 'bold'), ('(f)', 2362, 2850, 'normal')]:
    fig.text(x / W, 1 - y / H, lab, fontsize=19.5, fontweight=w, ha='center', va='center')

fig.savefig('out.png', dpi=300)
